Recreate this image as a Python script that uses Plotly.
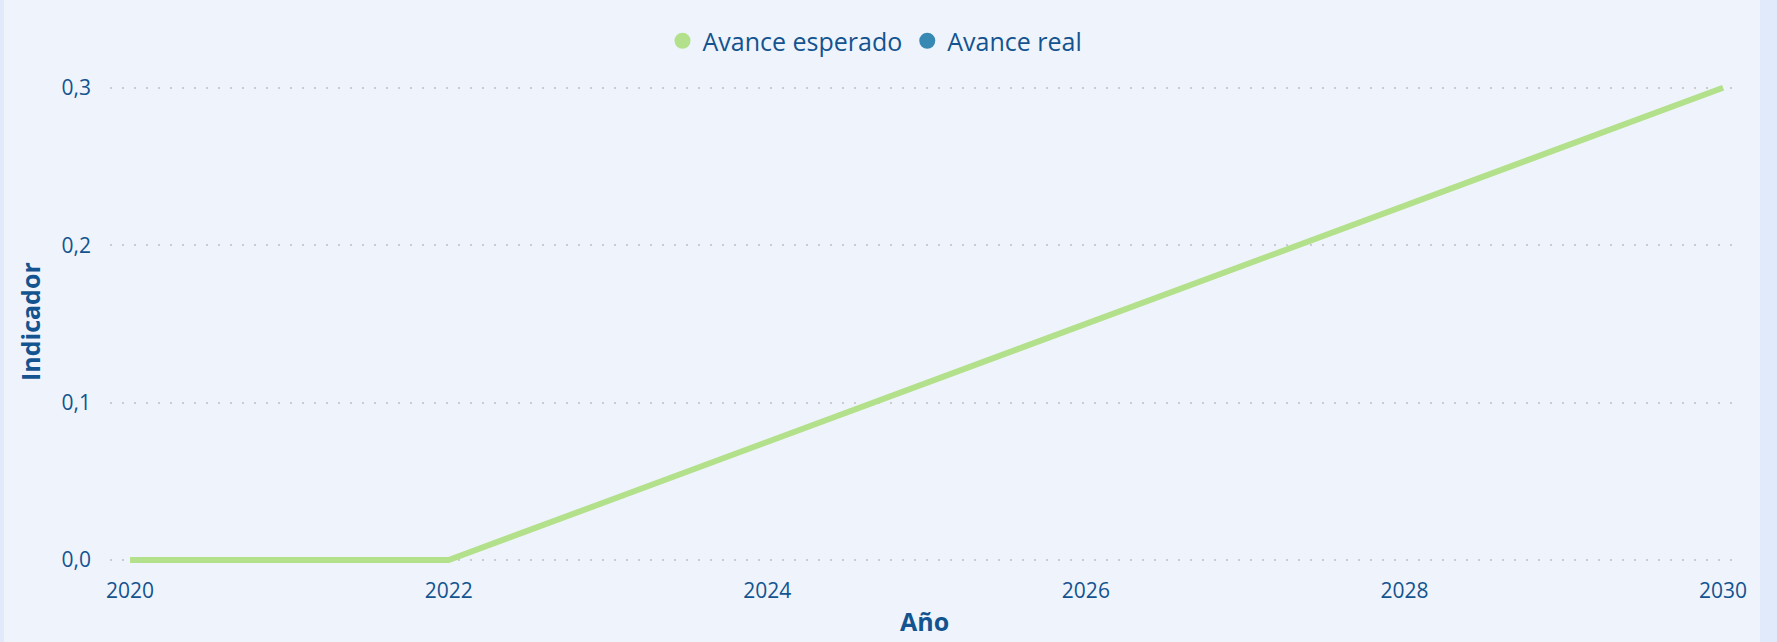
import plotly.graph_objects as go

years = [2020, 2021, 2022, 2023, 2024, 2025, 2026, 2027, 2028, 2029, 2030]
avance_esperado = [0.0, 0.0, 0.0, 0.0375, 0.075, 0.1125, 0.15, 0.1875, 0.225, 0.2625, 0.3]
avance_real = [None] * len(years)
x_ticks = [2020, 2022, 2024, 2026, 2028, 2030]
y_ticks = [0.0, 0.1, 0.2, 0.3]
y_tick_labels = ["0,0", "0,1", "0,2", "0,3"]

W, H = 1777, 642
L, R, T, B = 110, 38, 75, 72
pw = W - L - R
ph = H - T - B

green = "#b3e08a"
blue = "#3789b3"
txt = "#13538f"
panel = "#eff4fc"
edge = "#e1eafa"

fig = go.Figure()
fig.add_trace(go.Scatter(x=years, y=avance_esperado, mode="lines",
                         line=dict(color=green, width=6), showlegend=False,
                         name="Avance esperado"))
fig.add_trace(go.Scatter(x=years, y=avance_real, mode="lines",
                         line=dict(color=blue, width=6), showlegend=False,
                         name="Avance real"))
# legend entries
fig.add_trace(go.Scatter(x=[None], y=[None], mode="markers", name="Avance esperado",
                         marker=dict(color=green, size=20, symbol="circle")))
fig.add_trace(go.Scatter(x=[None], y=[None], mode="markers", name="Avance real",
                         marker=dict(color=blue, size=20, symbol="circle")))

# side stripes of the card
fig.add_shape(type="rect", xref="paper", yref="paper", layer="below",
              x0=(0 - L) / pw, x1=(4 - L) / pw, y0=-0.2, y1=1.2,
              fillcolor=edge, line=dict(width=0))
fig.add_shape(type="rect", xref="paper", yref="paper", layer="below",
              x0=(1760 - L) / pw, x1=(W - L) / pw, y0=-0.2, y1=1.2,
              fillcolor=edge, line=dict(width=0))

fig.add_annotation(text="<b>Año</b>", xref="paper", yref="paper",
                   x=0.5, y=(H - B - 621) / ph, yanchor="middle", showarrow=False,
                   font=dict(size=25, color=txt))
fig.add_annotation(text="<b>Indicador</b>", xref="paper", yref="paper",
                   x=(30 - L) / pw, y=(H - B - 322) / ph, xanchor="center", yanchor="middle",
                   textangle=-90, showarrow=False, font=dict(size=25, color=txt))

fig.update_layout(
    width=W, height=H,
    margin=dict(l=L, r=R, t=T, b=B, autoexpand=False),
    paper_bgcolor=panel,
    plot_bgcolor="rgba(0,0,0,0)",
    font=dict(family="Open Sans", color=txt, size=20),
    legend=dict(orientation="h", xref="container", yref="container",
                x=875 / W, xanchor="center", y=1 - 41 / H, yanchor="middle",
                font=dict(size=25, color=txt), itemwidth=30, bgcolor="rgba(0,0,0,0)"),
    xaxis=dict(range=[2019.874, 2030.1], tickvals=x_ticks, showgrid=False,
               zeroline=False, showline=False, ticks="", automargin=False,
               ticklabelstandoff=6,
               tickfont=dict(size=21, color=txt)),
    yaxis=dict(range=[-0.00635, 0.3081], tickvals=y_ticks, ticktext=y_tick_labels,
               showgrid=True, gridcolor="#c9cdd2", griddash="2px,10px", gridwidth=2,
               zeroline=False, showline=False, ticks="", ticklabelstandoff=18,
               automargin=False,
               tickfont=dict(size=21, color=txt)),
)
fig.write_html("out.html", config={"displayModeBar": False},
               post_script="document.body.style.margin='0';document.body.style.overflow='hidden';")
